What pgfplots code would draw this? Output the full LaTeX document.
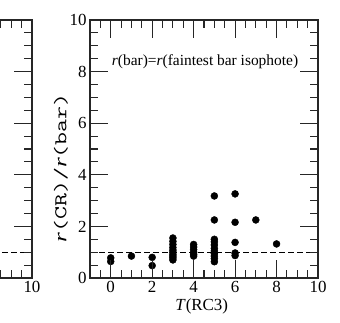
\documentclass[border=0pt]{standalone}
\usepackage{fontspec}
\setmainfont{Liberation Serif}
\usepackage{pgfplots}
\pgfplotsset{compat=1.18}
\pgfplotsset{
  panel/.style={
    scale only axis, width=228bp, height=258bp,
    anchor=south west,
    xmin=-1, xmax=10, ymin=0, ymax=10,
    ytick={0,2,4,6,8,10},
    minor xtick={-0.5,0,...,10}, minor ytick={0,0.5,...,10},
    tick align=inside,
    major tick length=18bp, minor tick length=8bp,
    axis line style={line width=1.1bp, black!85},
    tick style={line width=1.1bp, black!85},
    tick label style={font=\fontsize{17}{17}\selectfont},
    /pgf/number format/assume math mode=true,
    axis on top,
  },
  dashline/.style={black, line width=0.9bp, dash pattern=on 6bp off 3bp},
}
\tikzset{tickln/.style={line width=1.1bp, black!85}}
\begin{document}
\begin{tikzpicture}
\path[use as bounding box] (0,0) rectangle (340bp,323bp);

% left panel, only its right edge shows
\begin{axis}[panel, at={(-196bp,45bp)}, xtick={10}, yticklabels={}]
  \addplot[dashline] coordinates {(-1,1) (10,1)};
\end{axis}

% right panel
\begin{axis}[panel, at={(90bp,45bp)},
    xtick={0,2,4,6,8,10},
    xlabel={\textit{T}(RC3)},
    xlabel style={font=\fontsize{17}{17}\selectfont, at={(axis description cs:0.49,-0.112)}, anchor=center},
]
  \addplot[dashline] coordinates {(-1,1) (10,1)};
  \addplot[only marks, mark=*, mark size=3.5bp, black] coordinates {
    (0,0.78) (0,0.64)
    (1,0.85)
    (2,0.80) (2,0.48)
    (3,1.55) (3,1.42) (3,1.30) (3,1.18) (3,1.08) (3,1.00) (3,0.92) (3,0.85) (3,0.78) (3,0.70)
    (4,1.30) (4,1.20) (4,1.10) (4,1.00) (4,0.92) (4,0.85)
    (5,3.18) (5,2.25) (5,1.50) (5,1.40) (5,1.28) (5,1.15) (5,1.05) (5,0.95) (5,0.85) (5,0.75) (5,0.63)
    (6,3.26) (6,2.16) (6,1.38) (6,0.97) (6,0.87)
    (7,2.25)
    (8,1.32)
  };
  \node[font=\fontsize{15.5}{15.5}\selectfont] at (axis cs:4.55,8.38)
    {\textit{r}(bar)=\textit{r}(faintest bar isophote)};
\end{axis}

% y label, stretched along its length
\node[rotate=90, xscale=1.4, transform shape, font=\fontsize{18}{18}\selectfont]
  at (61bp,155bp) {\textit{r}\texttt{(CR)/}\textit{r}\texttt{(bar)}};

% inward ticks of the right panel frame, drawn last
\foreach \i in {1,...,21} {
  \pgfmathsetmacro\px{90 + \i*0.5*228/11}
  \draw[tickln] (\px bp,45bp) -- ++(0,8bp);
  \draw[tickln] (\px bp,303bp) -- ++(0,-8bp);
}
\foreach \i in {2,6,10,14,18} {
  \pgfmathsetmacro\px{90 + \i*0.5*228/11}
  \draw[tickln] (\px bp,45bp) -- ++(0,18bp);
  \draw[tickln] (\px bp,303bp) -- ++(0,-18bp);
}
\foreach \j in {1,...,19} {
  \pgfmathsetmacro\py{45 + \j*12.9}
  \draw[tickln] (90bp,\py bp) -- ++(8bp,0);
  \draw[tickln] (318bp,\py bp) -- ++(-8bp,0);
}
\foreach \j in {4,8,12,16} {
  \pgfmathsetmacro\py{45 + \j*12.9}
  \draw[tickln] (90bp,\py bp) -- ++(16bp,0);
  \draw[tickln] (318bp,\py bp) -- ++(-16bp,0);
}
\end{tikzpicture}
\end{document}
